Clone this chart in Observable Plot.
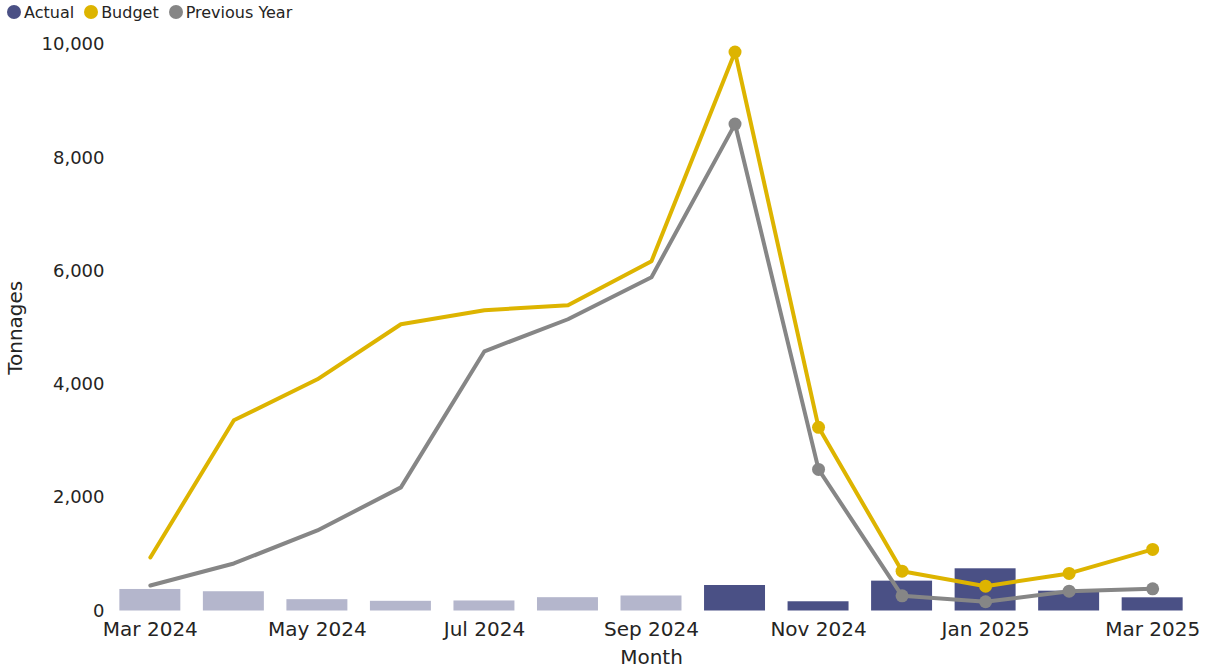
<!DOCTYPE html>
<html>
<head>
<meta charset="utf-8">
<script src="https://cdn.jsdelivr.net/npm/d3@7"></script>
<script src="https://cdn.jsdelivr.net/npm/@observablehq/plot@0.6"></script>
<style>
  html, body { margin: 0; padding: 0; background: #fff; }
  body { width: 1206px; height: 668px; overflow: hidden; font-family: "DejaVu Sans", sans-serif; }
  #legend { height: 24px; display: flex; align-items: center; padding-left: 7px; font-size: 16px; color: #252423; }
  #legend .item { display: flex; align-items: center; margin-right: 10px; }
  #legend .sw { width: 14px; height: 14px; border-radius: 50%; display: inline-block; margin-right: 3px; }
</style>
</head>
<body>
<div id="legend"></div>
<div id="chart"></div>
<script>
const months = ["Mar 2024","Apr 2024","May 2024","Jun 2024","Jul 2024","Aug 2024","Sep 2024","Oct 2024","Nov 2024","Dec 2024","Jan 2025","Feb 2025","Mar 2025"];
const actual = [380, 340, 200, 171, 177, 235, 265, 450, 163, 527, 745, 350, 233];
const budget = [945, 3366, 4090, 5062, 5309, 5397, 6175, 9868, 3242, 703, 438, 663, 1087];
const previousYear = [450, 839, 1422, 2182, 4585, 5150, 5892, 8595, 2500, 268, 163, 350, 392];
const highlighted = [false, false, false, false, false, false, false, true, true, true, true, true, true];
const tickLabels = ["Mar 2024","May 2024","Jul 2024","Sep 2024","Nov 2024","Jan 2025","Mar 2025"];
const yTicks = [0, 2000, 4000, 6000, 8000, 10000];
const seriesNames = ["Actual", "Budget", "Previous Year"];
const seriesColors = ["#4A5085", "#DDB400", "#868686"];
const fadedColor = "#B4B6CC";

const legend = document.getElementById("legend");
seriesNames.forEach((n, i) => {
  const it = document.createElement("span");
  it.className = "item";
  it.innerHTML = `<span class="sw" style="background:${seriesColors[i]}"></span>${n}`;
  legend.appendChild(it);
});

const rows = months.map((m, i) => ({month: m, actual: actual[i], budget: budget[i], prev: previousYear[i], hi: highlighted[i]}));
const dotRows = rows.filter(d => d.hi);

const chart = Plot.plot({
  width: 1206,
  height: 644,
  marginLeft: 111,
  marginRight: 15,
  marginTop: 20,
  marginBottom: 57.5,
  style: {fontFamily: "DejaVu Sans, sans-serif", fontSize: "17.5px", color: "#252423", background: "#fff"},
  x: {type: "band", domain: months, paddingInner: 0.27, paddingOuter: 0.1, round: false, label: null},
  y: {domain: [0, 10000], label: null},
  marks: [
    Plot.barY(rows, {x: "month", y: "actual", fill: d => d.hi ? seriesColors[0] : fadedColor}),
    Plot.line(rows, {x: "month", y: "budget", stroke: seriesColors[1], strokeWidth: 4}),
    Plot.line(rows, {x: "month", y: "prev", stroke: seriesColors[2], strokeWidth: 4}),
    Plot.dot(dotRows, {x: "month", y: "budget", fill: seriesColors[1], r: 6.5}),
    Plot.dot(dotRows, {x: "month", y: "prev", fill: seriesColors[2], r: 6.5}),
    Plot.axisX({ticks: tickLabels, tickSize: 0, tickPadding: 11, fontSize: 20, label: null}),
    Plot.axisY({ticks: yTicks, tickFormat: d3.format(","), tickSize: 0, tickPadding: 7, fontSize: 18, label: null}),
    Plot.text(["Tonnages"], {frameAnchor: "left", textAnchor: "middle", dx: -96, rotate: -90, fontSize: 20, fill: "#252423"}),
    Plot.text(["Month"], {frameAnchor: "bottom", dy: 53, fontSize: 20, fill: "#252423"})
  ]
});
document.getElementById("chart").appendChild(chart);
</script>
</body>
</html>
